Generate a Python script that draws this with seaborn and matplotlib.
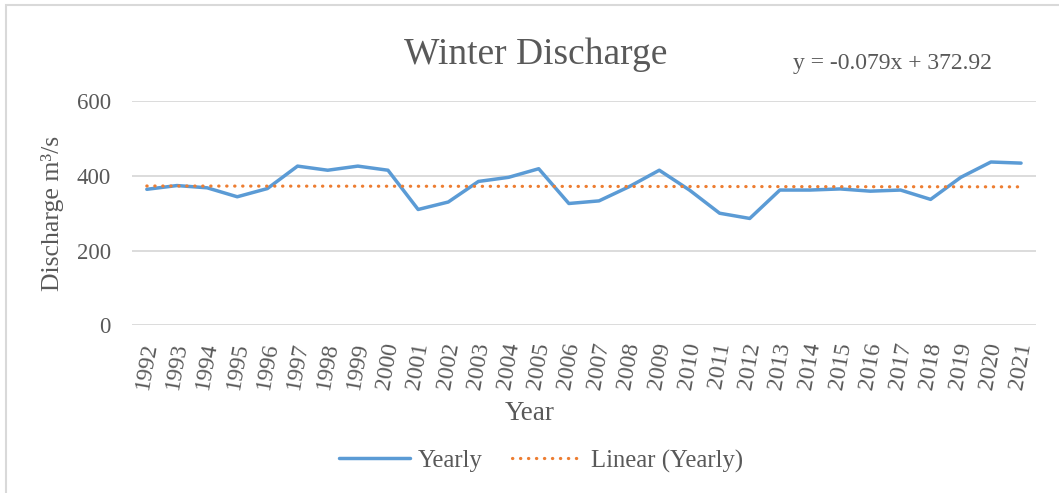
import matplotlib
matplotlib.use('Agg')
import matplotlib.pyplot as plt
import seaborn as sns
import pandas as pd
import numpy as np
from matplotlib.patches import Rectangle

# Data
years = list(range(1992, 2022))
discharge = [364, 374, 368, 344, 366, 426, 415, 426, 415, 310,
             330, 385, 396, 419, 326, 333, 371, 415, 362, 300,
             286, 362, 362, 365, 359, 362, 337, 396, 437, 434]
trend_slope = -0.079
trend_intercept = 372.92

grey_text = '#595959'
blue = '#5B9BD5'
orange = '#ED7D31'

sns.set_theme(style='white')
plt.rcParams['font.family'] = ['Liberation Serif', 'DejaVu Serif']

df = pd.DataFrame({'Year': years, 'Yearly': discharge})
# trend as shown by the chart's equation (x = 1..n)
df['Linear (Yearly)'] = trend_slope * np.arange(1, len(years) + 1) + trend_intercept

fig = plt.figure(figsize=(10.59, 4.93), dpi=100, facecolor='white')
ax = fig.add_axes([0.1244, 0.340, 0.854, 0.455])
ax.set_facecolor('white')

sns.lineplot(data=df, x='Year', y='Yearly', ax=ax, color=blue, linewidth=2.5,
             label='Yearly', legend=False)
sns.lineplot(data=df, x='Year', y='Linear (Yearly)', ax=ax, color=orange,
             linewidth=2.3, linestyle=(0, (0.1, 2.4)), label='Linear (Yearly)',
             legend=False)
for ln in ax.get_lines():
    ln.set_dash_capstyle('round')
    ln.set_solid_capstyle('round')

ax.set_xlim(years[0] - 0.5, years[-1] + 0.5)
ax.set_ylim(0, 600)
ax.set_yticks([0, 200, 400, 600])
ax.set_xticks(years)
ax.set_xticklabels([str(y) for y in years], rotation=80, ha='center')
ax.tick_params(axis='y', length=0, pad=15, labelsize=16.5, labelcolor=grey_text)
ax.tick_params(axis='x', length=0, pad=11, labelsize=17, labelcolor=grey_text)
ax.grid(axis='y', color='#D9D9D9', linewidth=1.3)
ax.set_axisbelow(True)
for s in ax.spines.values():
    s.set_visible(False)
ax.set_xlabel('')
ax.set_ylabel('')

# Titles and axis labels
fig.text(536 / 1059, 1 - 64 / 493, 'Winter Discharge', fontsize=27,
         color=grey_text, ha='center', va='baseline')
fig.text(793 / 1059, 1 - 69 / 493, 'y = -0.079x + 372.92', fontsize=17,
         color=grey_text, ha='left', va='baseline')
fig.text(53 / 1059, 1 - 213 / 493, 'Discharge m³/s', fontsize=18.5,
         color=grey_text, ha='center', va='center', rotation=90)
fig.text(530 / 1059, 1 - 413 / 493, 'Year', fontsize=19.5,
         color=grey_text, ha='center', va='center')

# Legend below the chart
handles, labels = ax.get_legend_handles_labels()
leg = fig.legend(handles, labels, loc='center', ncol=2,
                 bbox_to_anchor=(541 / 1059, 1 - 461 / 493), frameon=False,
                 fontsize=17.8, handlelength=2.85, handletextpad=0.32,
                 columnspacing=1.2)
for t in leg.get_texts():
    t.set_color(grey_text)

# light chart border
fig.patches.append(Rectangle((6 / 1059, -0.01), 1.0, 1 - 5 / 493 + 0.01,
                             transform=fig.transFigure, fill=False,
                             edgecolor='#D9D9D9', linewidth=1.5))

plt.savefig('out.png', dpi=100, facecolor='white')
